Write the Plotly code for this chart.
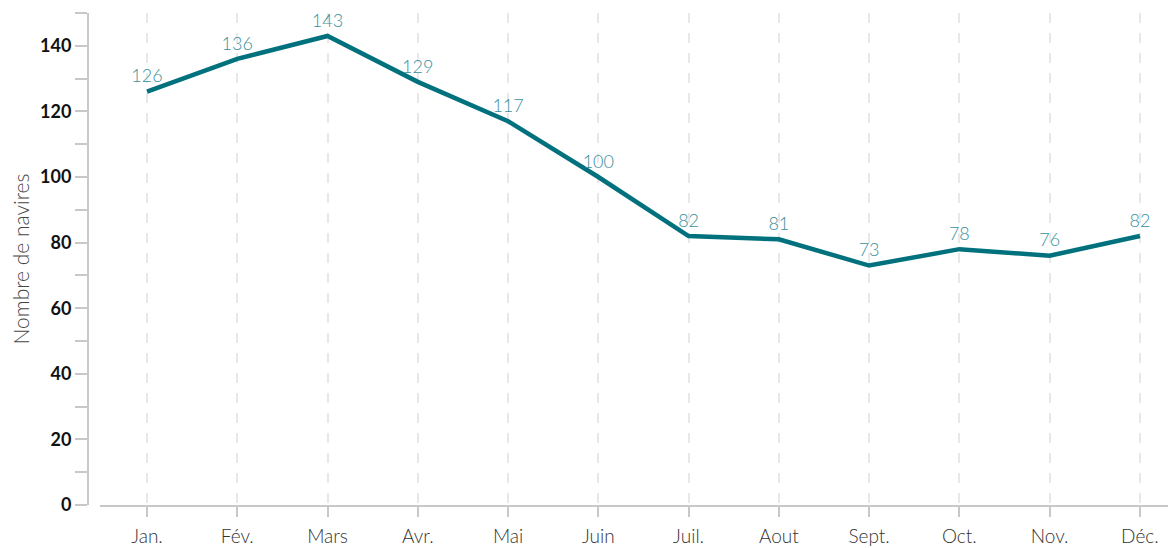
import plotly.graph_objects as go

months = ["Jan.", "Fév.", "Mars", "Avr.", "Mai", "Juin", "Juil.", "Aout", "Sept.", "Oct.", "Nov.", "Déc."]
ships = [126, 136, 143, 129, 117, 100, 82, 81, 73, 78, 76, 82]
y_ticks = list(range(0, 151, 10))
y_labels = [str(v) if v % 20 == 0 else "" for v in y_ticks]

fig = go.Figure()

# invisible markers give the value labels some room above the line
fig.add_trace(go.Scatter(
    x=list(range(len(months))),
    y=ships,
    mode="lines+markers+text",
    line=dict(color="#00717d", width=4.5),
    marker=dict(size=6, color="rgba(0,0,0,0)"),
    text=[str(v) for v in ships],
    textposition="top center",
    textfont=dict(family="Lato", size=18, color="#3a8f9b", weight=300),
    cliponaxis=False,
    hoverinfo="skip",
))

# the page body has an 8px margin, so the figure is shifted to compensate
fig.update_layout(
    width=1168,
    height=540,
    margin=dict(l=80, r=0, t=5, b=43, autoexpand=False),
    plot_bgcolor="white",
    paper_bgcolor="white",
    showlegend=False,
    xaxis=dict(
        domain=[0.0111, 1],
        range=[-0.52, 11.4],
        tickvals=list(range(len(months))),
        ticktext=months,
        showgrid=True,
        gridcolor="#e8e8e8",
        gridwidth=2,
        griddash="10px,10px",
        showline=True,
        linecolor="#c8c8c8",
        linewidth=2,
        ticks="outside",
        ticklen=10,
        tickwidth=2,
        tickcolor="#c8c8c8",
        ticklabelstandoff=3,
        automargin=False,
        tickfont=dict(family="Lato", size=19, color="#333333", weight=300),
        zeroline=False,
    ),
    yaxis=dict(
        range=[0, 150],
        anchor="free",
        position=0,
        tickvals=y_ticks,
        ticktext=y_labels,
        showgrid=False,
        showline=True,
        linecolor="#c8c8c8",
        linewidth=2,
        ticks="outside",
        ticklen=12,
        tickwidth=2,
        tickcolor="#c8c8c8",
        automargin=False,
        tickfont=dict(family="Lato", size=18, color="#111111", weight=700),
        zeroline=False,
        title=dict(
            text="Nombre de navires",
            font=dict(family="Lato", size=21, color="#444444", weight=300),
            standoff=15,
        ),
    ),
)

fig.write_html("out.html")
